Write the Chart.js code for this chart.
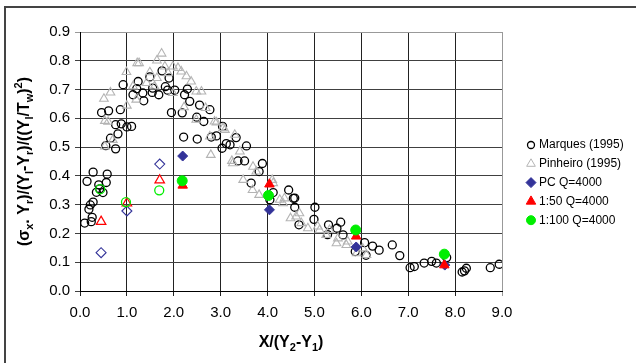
<!DOCTYPE html>
<html>
<head>
<meta charset="utf-8">
<script src="https://cdn.jsdelivr.net/npm/chart.js@4.4.1/dist/chart.umd.min.js"></script>
<style>
  html, body { margin: 0; padding: 0; background: #fff; }
  #wrap { width: 636px; height: 363px; position: relative; }
</style>
</head>
<body>
<div id="wrap"><canvas id="chart"></canvas></div>
<script>
// Marques (1995)
const marquesX = [0.10, 0.15, 0.19, 0.22, 0.28, 0.24, 0.26, 0.28, 0.35, 0.40, 0.42, 0.49, 0.46, 0.56, 0.58, 0.61,
  0.55, 0.65, 0.76, 0.76, 0.81, 0.86, 0.88, 0.92, 1.00, 1.10, 1.13, 1.24, 1.21, 1.34, 1.36, 1.49, 1.55, 1.54,
  1.68, 1.75, 1.82, 1.87, 1.90, 1.95, 2.02, 2.21, 2.18, 2.23, 2.29, 2.34, 2.50, 2.55, 2.64, 2.49, 2.77, 2.80,
  2.91, 3.03, 3.04, 3.12, 3.20, 3.33, 3.37, 3.51, 3.55, 3.65, 3.82, 3.89, 4.05, 4.12, 4.45, 4.55, 4.58, 4.58,
  4.67, 5.01, 4.99, 5.28, 5.30, 5.48, 5.56, 5.61, 5.87, 6.07, 6.10, 6.24, 6.38, 6.66, 6.82, 7.04, 7.13, 7.34,
  7.50, 7.60, 7.82, 8.15, 8.20, 8.24, 8.75, 8.94];
const marquesY = [0.236, 0.381, 0.284, 0.299, 0.309, 0.241, 0.256, 0.413, 0.343, 0.369, 0.355, 0.342, 0.620, 0.377, 0.406, 0.626,
  0.505, 0.531, 0.494, 0.578, 0.546, 0.630, 0.581, 0.717, 0.570, 0.572, 0.682, 0.728, 0.703, 0.688, 0.661, 0.744, 0.705, 0.690,
  0.682, 0.765, 0.710, 0.698, 0.740, 0.620, 0.698, 0.535, 0.619, 0.682, 0.702, 0.659, 0.528, 0.646, 0.589, 0.604, 0.630, 0.535,
  0.539, 0.496, 0.572, 0.512, 0.508, 0.533, 0.452, 0.452, 0.504, 0.375, 0.415, 0.443, 0.317, 0.342, 0.351, 0.322, 0.323, 0.291,
  0.230, 0.291, 0.249, 0.196, 0.230, 0.218, 0.239, 0.195, 0.137, 0.168, 0.124, 0.156, 0.142, 0.160, 0.123, 0.081, 0.085, 0.097,
  0.103, 0.097, 0.116, 0.066, 0.070, 0.079, 0.081, 0.093];

// Pinheiro (1995)
const pinheiroX = [0.51, 0.65, 0.53, 0.60, 0.53, 0.70, 0.99, 1.00, 1.22, 1.26, 1.13, 1.20, 1.49, 1.42, 1.59, 1.64,
  1.74, 1.64, 1.81, 1.88, 1.98, 2.09, 2.16, 1.98, 2.22, 2.37, 2.27, 2.48, 2.59, 2.48, 2.68, 2.77, 2.79, 2.87,
  2.91, 3.05, 3.09, 3.30, 3.26, 3.24, 3.41, 3.48, 3.69, 3.68, 3.76, 3.82, 4.10, 4.12, 4.26, 4.36, 4.33, 4.49,
  4.61, 4.68, 4.72, 4.86, 5.07, 5.11, 5.25, 5.32, 5.47, 5.50, 5.68, 5.71, 5.90, 6.11, 6.03];
const pinheiroY = [0.668, 0.690, 0.591, 0.588, 0.502, 0.525, 0.761, 0.644, 0.792, 0.792, 0.711, 0.665, 0.760, 0.723, 0.711, 0.740,
  0.825, 0.801, 0.780, 0.757, 0.780, 0.775, 0.763, 0.688, 0.639, 0.728, 0.746, 0.693, 0.693, 0.595, 0.636, 0.537, 0.473, 0.589,
  0.586, 0.566, 0.560, 0.543, 0.444, 0.452, 0.485, 0.386, 0.432, 0.351, 0.415, 0.334, 0.386, 0.375, 0.317, 0.322, 0.305, 0.253,
  0.259, 0.270, 0.236, 0.218, 0.224, 0.212, 0.195, 0.212, 0.166, 0.183, 0.160, 0.172, 0.131, 0.125, 0.148];

// model results, Q=4000
const pcX = [2.19, 4.04, 5.89, 7.78];
const pcY = [0.469, 0.282, 0.153, 0.090];
const s50X = [2.19, 4.04, 5.89, 7.77];
const s50Y = [0.367, 0.371, 0.190, 0.090];
const s100X = [2.18, 4.02, 5.88, 7.77];
const s100Y = [0.383, 0.332, 0.212, 0.128];

// open markers (not in legend)
const openX = [0.45, 1.00, 1.70];
const openPcY = [0.133, 0.278, 0.441];
const open50Y = [0.241, 0.305, 0.385];
const openGreenX = [0.43, 0.98, 1.69];
const open100Y = [0.354, 0.309, 0.350];

const legendNames = ['Marques (1995)', 'Pinheiro (1995)', 'PC Q=4000', '1:50 Q=4000', '1:100 Q=4000'];

const FONT = "'Liberation Sans', Arial, sans-serif";
const BLUE = '#333399';
const RED = '#ff0000';
const GREEN = '#00ee00';
const GREY = '#b4b4b4';

function pts(xs, ys) {
    return xs.map((x, i) => ({ x: x, y: ys[i] }));
}

// draw text with sub/superscripts, centred on (cx, cy)
function drawRich(ctx, parts, cx, cy, size, rotate) {
    const big = 'bold ' + size + 'px ' + FONT;
    const small = 'bold ' + Math.round(size * 0.66) + 'px ' + FONT;
    let total = 0;
    parts.forEach(p => {
        ctx.font = p[1] === 'n' ? big : small;
        total += ctx.measureText(p[0]).width;
    });
    ctx.save();
    ctx.translate(cx, cy);
    if (rotate) ctx.rotate(-Math.PI / 2);
    ctx.fillStyle = '#000';
    ctx.textBaseline = 'middle';
    ctx.textAlign = 'left';
    let x = -total / 2;
    parts.forEach(p => {
        let dy = 0;
        if (p[1] === 'b') dy = size * 0.32;
        if (p[1] === 'p') dy = -size * 0.38;
        ctx.font = p[1] === 'n' ? big : small;
        ctx.fillText(p[0], x, dy);
        x += ctx.measureText(p[0]).width;
    });
    ctx.restore();
}

const extras = {
    id: 'extras',
    afterDraw(chart) {
        const ctx = chart.ctx;
        const area = chart.chartArea;

        // outer frame
        ctx.save();
        ctx.strokeStyle = '#444';
        ctx.lineWidth = 2;
        ctx.strokeRect(5, 7, 700, 400);
        ctx.restore();

        // axis titles
        drawRich(ctx, [['X/(Y', 'n'], ['2', 'b'], ['-Y', 'n'], ['1', 'b'], [')', 'n']],
            (area.left + area.right) / 2, 343, 16, false);
        drawRich(ctx, [['(σ', 'n'], ['x', 'b'], ['. Y', 'n'], ['r', 'b'], [')/(Y', 'n'], ['l', 'b'],
            ['-Y', 'n'], ['r', 'b'], [')/((Y', 'n'], ['l', 'b'], ['/T', 'n'], ['w', 'b'], [')', 'n'],
            ['2', 'p'], [')', 'n']], 25, (area.top + area.bottom) / 2, 16, true);

        // legend
        const styles = [
            { pointStyle: 'circle', radius: 3.5, stroke: '#000', fill: null, bw: 1.3 },
            { pointStyle: 'triangle', radius: 5, stroke: GREY, fill: null, bw: 1 },
            { pointStyle: 'rectRot', radius: 5, stroke: BLUE, fill: BLUE, bw: 1 },
            { pointStyle: 'triangle', radius: 5.5, stroke: RED, fill: RED, bw: 1 },
            { pointStyle: 'circle', radius: 4.5, stroke: GREEN, fill: GREEN, bw: 1 }
        ];
        ctx.save();
        ctx.font = '12px ' + FONT;
        ctx.textBaseline = 'middle';
        ctx.textAlign = 'left';
        legendNames.forEach((name, i) => {
            const y = 145 + i * 18.8;
            const s = styles[i];
            ctx.strokeStyle = s.stroke;
            ctx.fillStyle = s.fill || 'rgba(0,0,0,0)';
            ctx.lineWidth = s.bw;
            Chart.helpers.drawPoint(ctx, { pointStyle: s.pointStyle, radius: s.radius, borderWidth: s.bw, rotation: 0 }, 531, y);
            ctx.fillStyle = '#000';
            ctx.fillText(name, 539, y);
        });
        ctx.restore();
    }
};

new Chart(document.getElementById('chart').getContext('2d'), {
    type: 'scatter',
    data: {
        datasets: [
            {
                label: legendNames[0], data: pts(marquesX, marquesY), order: 8,
                pointStyle: 'circle', pointRadius: 4, borderColor: '#000', backgroundColor: 'rgba(0,0,0,0)', borderWidth: 1.3
            },
            {
                label: legendNames[1], data: pts(pinheiroX, pinheiroY), order: 7,
                pointStyle: 'triangle', pointRadius: 5, borderColor: GREY, backgroundColor: 'rgba(0,0,0,0)', borderWidth: 1.1
            },
            {
                label: 'open PC', data: pts(openX, openPcY), order: 6,
                pointStyle: 'rectRot', pointRadius: 5, borderColor: BLUE, backgroundColor: 'rgba(0,0,0,0)', borderWidth: 1.1
            },
            {
                label: 'open 1:50', data: pts(openX, open50Y), order: 5,
                pointStyle: 'triangle', pointRadius: 5.5, borderColor: RED, backgroundColor: 'rgba(0,0,0,0)', borderWidth: 1.2
            },
            {
                label: 'open 1:100', data: pts(openGreenX, open100Y), order: 4,
                pointStyle: 'circle', pointRadius: 4.5, borderColor: GREEN, backgroundColor: 'rgba(0,0,0,0)', borderWidth: 1.3
            },
            {
                label: legendNames[2], data: pts(pcX, pcY), order: 3,
                pointStyle: 'rectRot', pointRadius: 5, borderColor: BLUE, backgroundColor: BLUE, borderWidth: 1
            },
            {
                label: legendNames[3], data: pts(s50X, s50Y), order: 2,
                pointStyle: 'triangle', pointRadius: 5.5, borderColor: RED, backgroundColor: RED, borderWidth: 1
            },
            {
                label: legendNames[4], data: pts(s100X, s100Y), order: 1,
                pointStyle: 'circle', pointRadius: 5, borderColor: GREEN, backgroundColor: GREEN, borderWidth: 1
            }
        ]
    },
    options: {
        responsive: true,
        maintainAspectRatio: false,
        animation: false,
        events: [],
        layout: { padding: { top: 32, right: 134, left: 0, bottom: 0 } },
        plugins: {
            legend: { display: false },
            tooltip: { enabled: false }
        },
        scales: {
            x: {
                type: 'linear', min: 0, max: 9,
                afterFit: (s) => { s.height = 72; },
                ticks: {
                    stepSize: 1, padding: 8, color: '#000',
                    font: { family: FONT, size: 15 },
                    callback: (v) => Number(v).toFixed(1)
                },
                grid: {
                    color: (c) => (c.tick && c.tick.value === 9) ? '#999' : '#222',
                    lineWidth: 1, tickLength: 5
                },
                border: { color: '#000', width: 1 }
            },
            y: {
                min: 0, max: 0.9,
                afterFit: (s) => { s.width = 80; },
                ticks: {
                    stepSize: 0.1, padding: 5, color: '#000',
                    font: { family: FONT, size: 15 },
                    callback: (v) => Number(v).toFixed(1)
                },
                grid: {
                    color: (c) => (c.tick && Math.abs(c.tick.value - 0.9) < 1e-6) ? '#999' : '#404040',
                    lineWidth: 1, tickLength: 5
                },
                border: { color: '#000', width: 1 }
            }
        }
    },
    plugins: [extras]
});
</script>
</body>
</html>
